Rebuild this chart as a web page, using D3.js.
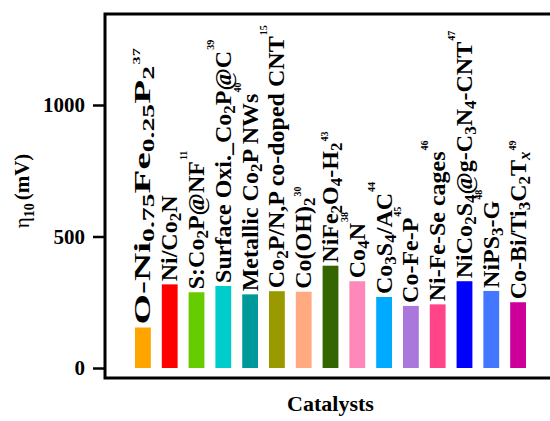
<!DOCTYPE html>
<html>
<head>
<meta charset="utf-8">
<script src="https://cdn.jsdelivr.net/npm/d3@7"></script>
<style>
  body { margin: 0; background: #fff; }
  text { font-family: "Liberation Serif", "Times New Roman", serif; }
</style>
</head>
<body>
<svg id="chart" width="550" height="421"></svg>
<script>
// catalyst labels: _{..} is a subscript
const catalysts = [
  "O-Ni_{0.75}Fe_{0.25}P_{2}",
  "Ni/Co_{2}N",
  "S:Co_{2}P@NF",
  "Surface Oxi._Co_{2}P@C",
  "Metallic Co_{2}P NWs",
  "Co_{2}P/N,P co-doped CNT",
  "Co(OH)_{2}",
  "NiFe_{2}O_{4}-H_{2}",
  "Co_{4}N",
  "Co_{3}S_{4}/AC",
  "Co-Fe-P",
  "Ni-Fe-Se cages",
  "NiCo_{2}S_{4}@g-C_{3}N_{4}-CNT",
  "NiPS_{3}-G",
  "Co-Bi/Ti_{3}C_{2}T_{x}"
];
const refs = ["37", "", "11", "39", "40", "15", "30", "43", "38", "44", "45", "46", "47", "48", "49"];
const overpotential = [154, 318, 288, 312, 280, 292, 290, 389, 330, 270, 236, 242, 330, 293, 250];
const barColors = ["#FFA500", "#FF0000", "#66CC00", "#00CCCC", "#009999", "#999900", "#FFAA80",
  "#336600", "#FF88BB", "#00AAFF", "#AA77DD", "#FF4488", "#0000FF", "#4477FF", "#CC0099"];
const yTicks = [0, 500, 1000];

const svg = d3.select("#chart");
const plotL = 105, plotR = 556, plotT = 14, plotB = 378;

const x = d3.scaleBand()
  .domain(d3.range(catalysts.length))
  .range([plotL, plotR])
  .paddingInner(0.41)
  .paddingOuter(1.12);

const y = d3.scaleLinear()
  .domain([-38, 1346])
  .range([plotB, plotT]);

// bars
svg.append("g")
  .selectAll("rect")
  .data(overpotential)
  .join("rect")
  .attr("x", (d, i) => x(i))
  .attr("y", d => y(d))
  .attr("width", x.bandwidth())
  .attr("height", d => y(0) - y(d))
  .attr("fill", (d, i) => barColors[i]);

// split "Co_{2}N" into plain and subscript pieces
function pieces(s) {
  const out = [];
  const re = /_\{([^}]*)\}/g;
  let last = 0, m;
  while ((m = re.exec(s)) !== null) {
    if (m.index > last) out.push({ t: s.slice(last, m.index), sub: false });
    out.push({ t: m[1], sub: true });
    last = re.lastIndex;
  }
  if (last < s.length) out.push({ t: s.slice(last), sub: false });
  return out;
}

// the first label is drawn stretched along its length in the original
const stretch = i => (i === 0 ? 1.63 : 1);

// rotated labels above bars
const labels = svg.append("g")
  .selectAll("text")
  .data(catalysts)
  .join("text")
  .attr("transform", (d, i) =>
    `translate(${x(i) + x.bandwidth() / 2},${y(overpotential[i]) - 3}) rotate(-90) scale(${stretch(i)},1)`)
  .attr("y", 7.5)
  .attr("font-size", 24)
  .attr("font-weight", "bold")
  .attr("fill", "#000");

labels.each(function (d, i) {
  const t = d3.select(this);
  let shift = 0;
  pieces(d).forEach(p => {
    const s = p.sub ? 4 : 0;
    const sp = t.append("tspan")
      .attr("dy", s - shift)
      .attr("font-size", p.sub ? 17 : 24)
      .text(p.t);
    if (p.t === "x") sp.attr("font-style", "italic");
    shift = s;
  });
  if (refs[i]) {
    t.append("tspan")
      .attr("dy", shift ? -14 : -17)
      .attr("dx", 1)
      .attr("font-size", 10)
      .text(refs[i]);
  }
});

// frame
svg.append("rect")
  .attr("x", plotL)
  .attr("y", plotT)
  .attr("width", plotR - plotL)
  .attr("height", plotB - plotT)
  .attr("fill", "none")
  .attr("stroke", "#000")
  .attr("stroke-width", 3);

// y axis
const yAxis = d3.axisLeft(y)
  .tickValues(yTicks)
  .tickFormat(d3.format("d"))
  .tickSize(11)
  .tickSizeOuter(0)
  .tickPadding(8);

const ya = svg.append("g")
  .attr("transform", `translate(${plotL - 1},0)`)
  .call(yAxis);
ya.select(".domain").remove();
ya.selectAll(".tick line").attr("stroke", "#000").attr("stroke-width", 2.5);
ya.selectAll(".tick text")
  .attr("font-family", "Liberation Serif, serif")
  .attr("font-size", 21)
  .attr("font-weight", "bold")
  .attr("fill", "#000");

// axis titles
svg.append("text")
  .attr("x", (plotL + plotR) / 2)
  .attr("y", 411)
  .attr("text-anchor", "middle")
  .attr("font-size", 22)
  .attr("font-weight", "bold")
  .text("Catalysts");

const yt = svg.append("text")
  .attr("transform", "translate(29,191) rotate(-90)")
  .attr("text-anchor", "middle")
  .attr("font-size", 21);
yt.append("tspan").text("η");
yt.append("tspan").attr("dy", 5).attr("font-size", 14).attr("font-weight", "bold").text("10");
yt.append("tspan").attr("dy", -5).attr("dx", 3).attr("font-weight", "bold").text("(mV)");
</script>
</body>
</html>
